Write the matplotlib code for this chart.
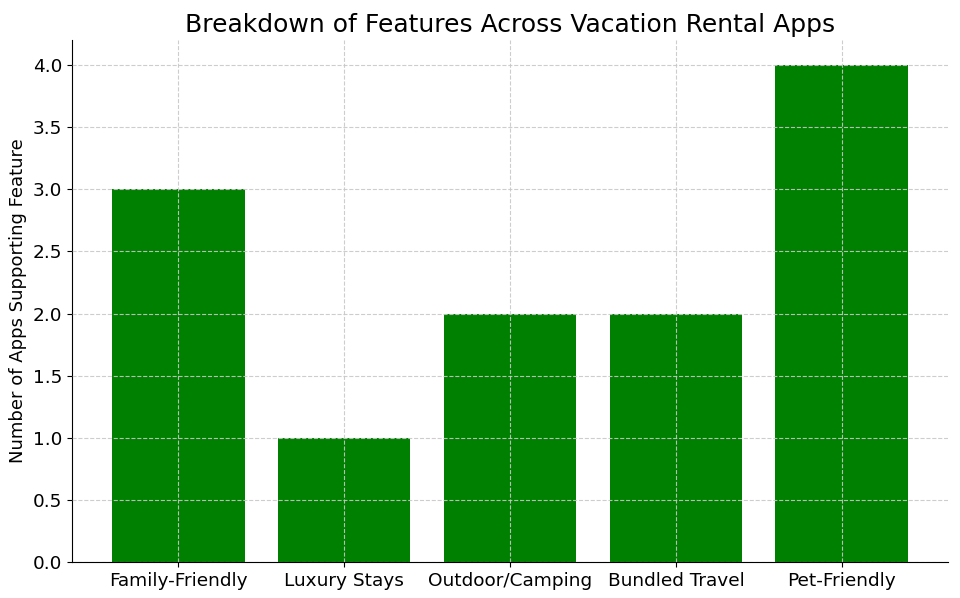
import matplotlib
matplotlib.use('Agg')
import matplotlib.pyplot as plt

features = ['Family-Friendly', 'Luxury Stays', 'Outdoor/Camping', 'Bundled Travel', 'Pet-Friendly']
app_counts = [3, 1, 2, 2, 4]

fig, ax = plt.subplots(figsize=(9.6, 5.98), dpi=100)
fig.subplots_adjust(left=0.075, right=0.9875, bottom=0.06, top=0.933)

ax.bar(features, app_counts, color='green')
ax.set_title('Breakdown of Features Across Vacation Rental Apps', fontsize=18)
ax.set_ylabel('Number of Apps Supporting Feature', fontsize=13)
ax.tick_params(labelsize=13.3)
ax.grid(True, ls='--', color='#c8c8c8', lw=0.8, alpha=0.9)
ax.set_axisbelow(False)
ax.spines['top'].set_visible(False)
ax.spines['right'].set_visible(False)

fig.savefig('out.png', dpi=100)
